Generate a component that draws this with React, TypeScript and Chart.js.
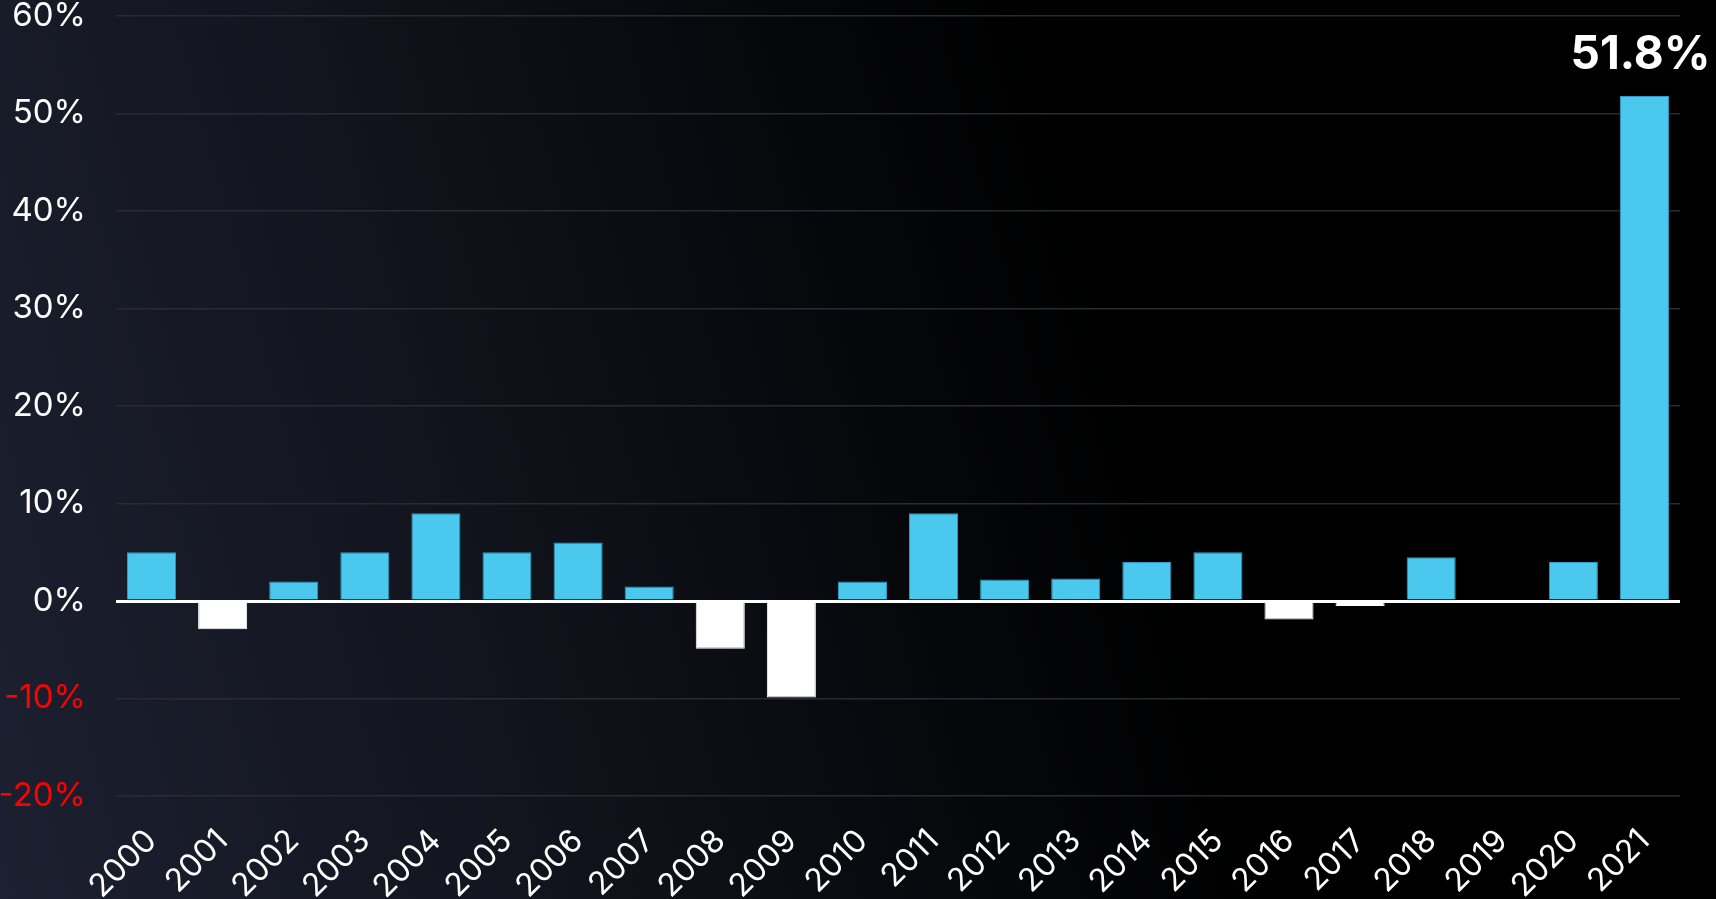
import React, { useEffect, useRef } from "react";
import { Chart, registerables } from "chart.js";

Chart.register(...registerables);

const years = [
  "2000", "2001", "2002", "2003", "2004", "2005", "2006", "2007", "2008", "2009", "2010",
  "2011", "2012", "2013", "2014", "2015", "2016", "2017", "2018", "2019", "2020", "2021",
];
const growth = [
  5.0, -2.9, 2.0, 5.0, 9.0, 5.0, 6.0, 1.5, -4.9, -9.9, 2.0,
  9.0, 2.2, 2.3, 4.0, 5.0, -1.9, -0.5, 4.5, 0, 4.0, 51.8,
];
const highlightIndex = 21;
const highlightText = "51.8%";
const yMin = -20;
const yMax = 60;
const yStep = 10;

const FONT = "Inter, 'DejaVu Sans', sans-serif";

export default function App() {
  const ref = useRef<HTMLCanvasElement | null>(null);

  useEffect(() => {
    document.body.style.margin = "0";
    const canvas = ref.current;
    if (!canvas) return;

    const labelPlugin = {
      id: "highlightLabel",
      afterDatasetsDraw(chart: any) {
        const meta = chart.getDatasetMeta(0);
        const bar = meta.data[highlightIndex];
        if (!bar) return;
        const ctx = chart.ctx;
        ctx.save();
        ctx.font = `bold 46px ${FONT}`;
        ctx.fillStyle = "#ffffff";
        ctx.textAlign = "center";
        ctx.textBaseline = "alphabetic";
        ctx.fillText(highlightText, bar.x - 4, bar.y - 27);
        ctx.restore();
      },
    };

    const chart = new Chart(canvas, {
      type: "bar",
      data: {
        labels: years,
        datasets: [
          {
            data: growth,
            backgroundColor: growth.map((v) => (v < 0 ? "#ffffff" : "#4bc8ee")),
            borderColor: growth.map((v) => (v < 0 ? "#ffffff" : "#2e9cc2")),
            borderWidth: 1,
            barPercentage: 0.69,
            categoryPercentage: 1,
          },
        ],
      },
      options: {
        responsive: false,
        maintainAspectRatio: false,
        animation: false,
        layout: { padding: { top: 16, right: 36, bottom: 0, left: 0 } },
        plugins: {
          legend: { display: false },
          tooltip: { enabled: false },
        },
        scales: {
          x: {
            grid: { display: false, drawTicks: false },
            border: { display: false },
            ticks: {
              color: "#ffffff",
              font: { family: FONT, size: 32 },
              minRotation: 45,
              maxRotation: 45,
              padding: 26,
            },
            afterFit: (s: any) => {
              s.height = 103;
              s.paddingLeft = 0;
              s.paddingRight = 0;
            },
          },
          y: {
            min: yMin,
            max: yMax,
            grid: {
              color: (c: any) => (c.tick && c.tick.value === 0 ? "#ffffff" : "#2a2b32"),
              lineWidth: (c: any) => (c.tick && c.tick.value === 0 ? 3 : 1.6),
              drawTicks: false,
            },
            border: { display: false },
            ticks: {
              stepSize: yStep,
              padding: 30,
              color: (c: any) => (c.tick && c.tick.value < 0 ? "#ff0000" : "#ffffff"),
              font: { family: FONT, size: 33, lineHeight: 1 },
              callback: (v: any) => `${v}%`,
            },
            afterFit: (s: any) => {
              s.width = 116;
              s.paddingTop = 0;
              s.paddingBottom = 0;
            },
          },
        },
      },
      plugins: [labelPlugin],
    });

    return () => chart.destroy();
  }, []);

  return (
    <div
      style={{
        width: 1716,
        height: 899,
        background:
          "linear-gradient(75deg, #1c2030 0%, #11131c 30%, #06070a 52%, #000000 65%, #000000 100%)",
      }}
    >
      <canvas ref={ref} width={1716} height={899} style={{ display: "block" }} />
    </div>
  );
}
